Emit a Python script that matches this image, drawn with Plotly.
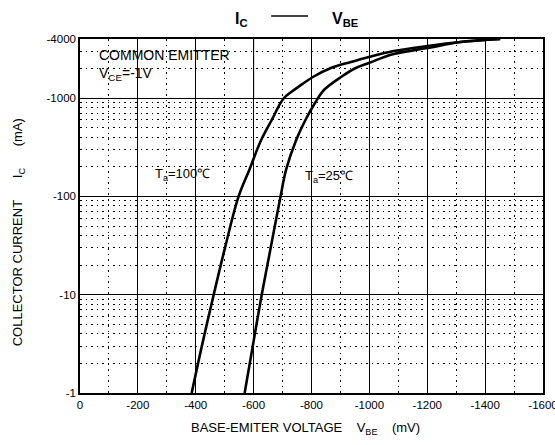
import plotly.graph_objects as go

# Base-emitter voltage magnitude (mV) and collector current magnitude (mA)
vbe_100 = [386, 421, 462, 501, 548, 585, 626, 668, 685, 705, 730, 754, 805, 867, 936, 998, 1084, 1201, 1315, 1452]
ic_100 = [1, 3, 10, 30, 100, 186, 375, 643, 812, 1004, 1156, 1300, 1642, 2027, 2333, 2624, 3020, 3396, 3726, 4000]

vbe_25 = [569, 597, 628, 659, 693, 712, 747, 779, 812, 843, 902, 953, 998, 1084, 1201, 1315, 1452]
ic_25 = [1, 3, 10, 30, 100, 186, 375, 600, 893, 1211, 1642, 2027, 2280, 2813, 3240, 3726, 4000]

x_ticks = [0, 200, 400, 600, 800, 1000, 1200, 1400, 1600]
x_ticktext = ["0", "-200", "-400", "-600", "-800", "-1000", "-1200", "-1400", "-1600"]
x_minor = [100, 300, 500, 700, 900, 1100, 1300, 1500]
y_ticks = [1, 10, 100, 1000, 4000]
y_ticktext = ["-1", "-10", "-100", "-1000", "-4000"]
y_minor = [m * d for d in (1, 10, 100) for m in range(2, 10)] + [2000, 3000]

FONT = "Liberation Sans, Arial, sans-serif"

fig = go.Figure()
for xs, ys in ((vbe_100, ic_100), (vbe_25, ic_25)):
    fig.add_trace(go.Scatter(x=xs, y=ys, mode="lines",
                             line=dict(color="black", width=2.6, shape="spline", smoothing=1.0),
                             showlegend=False, hoverinfo="skip"))

# the page is captured with a horizontal factor of 540/555; pre-compensate widths
S = 555 / 540
W, H = round(555 * S), 445
L, R, T, B = 78, 543, 39, 393   # target plot area in window pixels
LS, RS = round(L * S), round(R * S)

def px(x):
    return (x - L) / (R - L)

def py(y):
    return (B - y) / (B - T)

fig.update_layout(
    width=W, height=H, autosize=False,
    margin=dict(l=LS, r=W - RS, t=T, b=H - B, pad=0),
    paper_bgcolor="white", plot_bgcolor="white",
    font=dict(family=FONT, color="black", size=11),
    xaxis=dict(range=[0, 1600], tickvals=x_ticks, ticktext=x_ticktext,
               showgrid=True, gridcolor="black", gridwidth=1,
               showline=True, linecolor="black", linewidth=1.5, mirror=True,
               ticks="", zeroline=False, tickfont=dict(size=11.5),
               ticklabeloverflow="allow",
               minor=dict(tickvals=x_minor, showgrid=True, gridcolor="black",
                          gridwidth=1, griddash="1.5px,4px", ticks="")),
    yaxis=dict(type="log", range=[0, 3.60206], tickvals=y_ticks, ticktext=y_ticktext,
               showgrid=True, gridcolor="black", gridwidth=1,
               showline=True, linecolor="black", linewidth=1.5, mirror=True,
               ticks="", zeroline=False, tickfont=dict(size=11.5),
               ticklabeloverflow="allow",
               minor=dict(tickvals=y_minor, showgrid=True, gridcolor="black",
                          gridwidth=1, griddash="1.5px,4px", ticks="")),
)

# white panel behind the condition text (covers the grid), right edge on the -600 line
x600 = 600 / 1600
fig.add_shape(type="rect", xref="paper", yref="paper",
              x0=0, x1=x600, y0=py(98), y1=1,
              fillcolor="white", line=dict(width=0), layer="between")
fig.add_shape(type="line", xref="paper", yref="paper",
              x0=x600, x1=x600, y0=py(98), y1=1,
              line=dict(color="black", width=1), layer="between")

# title
fig.add_annotation(xref="paper", yref="paper", x=px(232), y=py(19), xanchor="left", yanchor="middle",
                   text="<b>I<sub>C</sub></b>", showarrow=False, font=dict(size=16))
fig.add_shape(type="line", xref="paper", yref="paper", x0=px(270), x1=px(307),
              y0=py(16), y1=py(16), line=dict(color="black", width=1.5))
fig.add_annotation(xref="paper", yref="paper", x=px(329), y=py(19), xanchor="left", yanchor="middle",
                   text="<b>V<sub>BE</sub></b>", showarrow=False, font=dict(size=16))

# condition text
fig.add_annotation(xref="paper", yref="paper", x=px(95), y=py(55), xanchor="left", yanchor="middle",
                   text="COMMON EMITTER", showarrow=False, font=dict(size=14))
fig.add_annotation(xref="paper", yref="paper", x=px(95), y=py(74), xanchor="left", yanchor="middle",
                   text="V<sub>CE</sub>=-1V", showarrow=False, font=dict(size=14))

# curve labels
fig.add_annotation(xref="paper", yref="paper", x=px(151), y=py(174), xanchor="left", yanchor="middle",
                   text="T<sub>a</sub>=100\u2103", showarrow=False, font=dict(size=13))
fig.add_annotation(xref="paper", yref="paper", x=px(302), y=py(176), xanchor="left", yanchor="middle",
                   text="T<sub>a</sub>=25\u2103", showarrow=False, font=dict(size=13))

# axis titles
fig.add_annotation(xref="paper", yref="paper", x=px(304), y=py(428), xanchor="center", yanchor="middle",
                   text="BASE-EMITER VOLTAGE&nbsp;&nbsp;&nbsp;&nbsp;V<sub>BE</sub>&nbsp;&nbsp;&nbsp;&nbsp;(mV)",
                   showarrow=False, font=dict(size=13))
fig.add_annotation(xref="paper", yref="paper", x=px(16), y=py(232), xanchor="center", yanchor="middle",
                   textangle=-90,
                   text="COLLECTOR CURRENT&nbsp;&nbsp;&nbsp;&nbsp;&nbsp;&nbsp;I<sub>C</sub>&nbsp;&nbsp;&nbsp;&nbsp;&nbsp;&nbsp;(mA)",
                   showarrow=False, font=dict(size=13))

post = (
    "document.documentElement.style.overflow='hidden';"
    "document.body.style.margin='0';document.body.style.overflow='hidden';"
)
fig.write_html("out.html",
               config={"responsive": False, "displayModeBar": False},
               post_script=post)
